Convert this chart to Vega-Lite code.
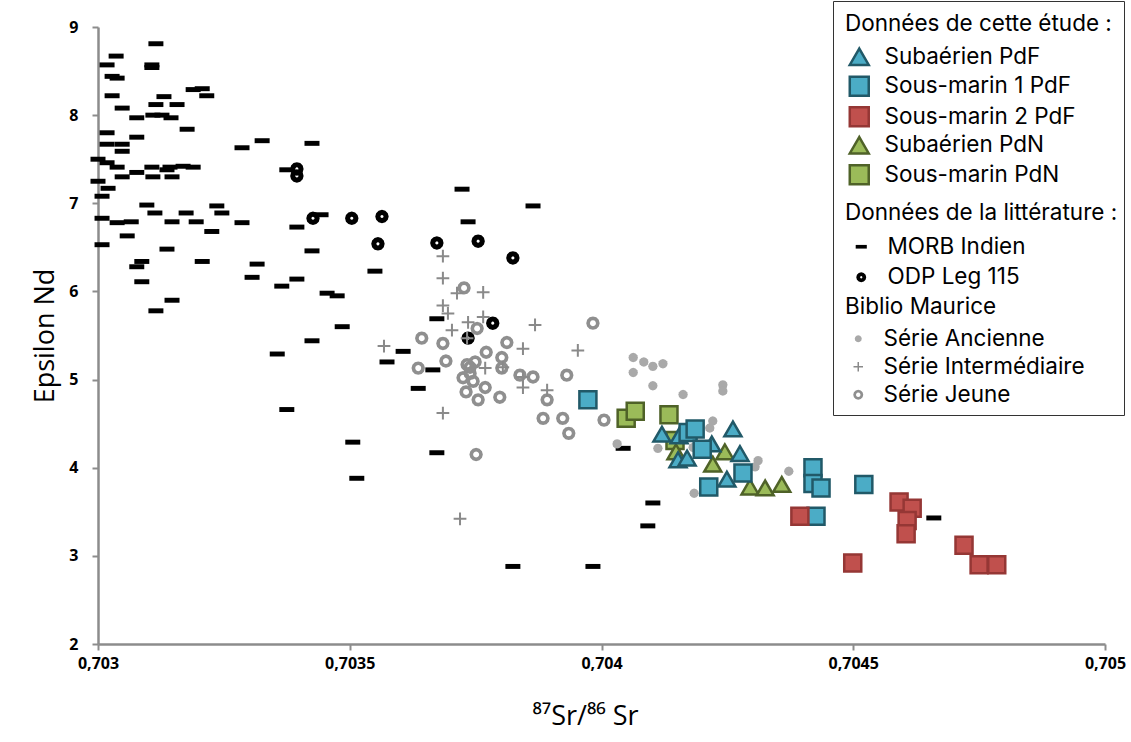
{
  "$schema": "https://vega.github.io/schema/vega-lite/v6.json",
  "width": 1007,
  "height": 617,
  "autosize": {"type": "none"},
  "padding": {"left": 98, "top": 27, "right": 26, "bottom": 98},
  "background": "white",
  "config": {
    "view": {"stroke": null},
    "font": "Open Sans",
    "axis": {
      "grid": false,
      "domainColor": "#8c8c8c",
      "domainWidth": 2.5,
      "tickColor": "#8c8c8c",
      "tickWidth": 2,
      "tickSize": 6,
      "labelColor": "#000000",
      "labelFont": "Open Sans",
      "labelFontSize": 16,
      "labelFontWeight": "bold",
      "labelOverlap": false,
      "labelFlush": false,
      "titleFont": "Open Sans",
      "titleFontSize": 27,
      "titleFontWeight": "normal",
      "titleColor": "#000000"
    },
    "legend": {
      "titleFont": "Inter",
      "titleFontSize": 22.5,
      "titleFontWeight": "normal",
      "titleColor": "#000000",
      "labelFont": "Inter",
      "labelFontSize": 22.5,
      "labelColor": "#000000",
      "labelLimit": 400,
      "titleLimit": 400,
      "symbolOpacity": 1
    }
  },
  "datasets": {
    "litt": [
      {"serie": "MORB Indien", "sr": 0.703115, "end": 8.81},
      {"serie": "MORB Indien", "sr": 0.703036, "end": 8.67},
      {"serie": "MORB Indien", "sr": 0.703018, "end": 8.57},
      {"serie": "MORB Indien", "sr": 0.703107, "end": 8.57},
      {"serie": "MORB Indien", "sr": 0.703107, "end": 8.54},
      {"serie": "MORB Indien", "sr": 0.703028, "end": 8.44},
      {"serie": "MORB Indien", "sr": 0.703038, "end": 8.42},
      {"serie": "MORB Indien", "sr": 0.703028, "end": 8.22},
      {"serie": "MORB Indien", "sr": 0.703131, "end": 8.21},
      {"serie": "MORB Indien", "sr": 0.703189, "end": 8.29},
      {"serie": "MORB Indien", "sr": 0.703207, "end": 8.30},
      {"serie": "MORB Indien", "sr": 0.703216, "end": 8.22},
      {"serie": "MORB Indien", "sr": 0.703048, "end": 8.08},
      {"serie": "MORB Indien", "sr": 0.703115, "end": 8.12},
      {"serie": "MORB Indien", "sr": 0.703157, "end": 8.12},
      {"serie": "MORB Indien", "sr": 0.703077, "end": 7.97},
      {"serie": "MORB Indien", "sr": 0.703109, "end": 8.00},
      {"serie": "MORB Indien", "sr": 0.703127, "end": 8.00},
      {"serie": "MORB Indien", "sr": 0.703145, "end": 7.97},
      {"serie": "MORB Indien", "sr": 0.703177, "end": 7.84},
      {"serie": "MORB Indien", "sr": 0.703018, "end": 7.80},
      {"serie": "MORB Indien", "sr": 0.703077, "end": 7.75},
      {"serie": "MORB Indien", "sr": 0.703018, "end": 7.67},
      {"serie": "MORB Indien", "sr": 0.703048, "end": 7.67},
      {"serie": "MORB Indien", "sr": 0.703048, "end": 7.59},
      {"serie": "MORB Indien", "sr": 0.703326, "end": 7.71},
      {"serie": "MORB Indien", "sr": 0.703286, "end": 7.63},
      {"serie": "MORB Indien", "sr": 0.703425, "end": 7.68},
      {"serie": "MORB Indien", "sr": 0.703000, "end": 7.50},
      {"serie": "MORB Indien", "sr": 0.703018, "end": 7.46},
      {"serie": "MORB Indien", "sr": 0.703038, "end": 7.41},
      {"serie": "MORB Indien", "sr": 0.703107, "end": 7.41},
      {"serie": "MORB Indien", "sr": 0.703143, "end": 7.41},
      {"serie": "MORB Indien", "sr": 0.703169, "end": 7.42},
      {"serie": "MORB Indien", "sr": 0.703189, "end": 7.41},
      {"serie": "MORB Indien", "sr": 0.703077, "end": 7.35},
      {"serie": "MORB Indien", "sr": 0.703137, "end": 7.38},
      {"serie": "MORB Indien", "sr": 0.703048, "end": 7.30},
      {"serie": "MORB Indien", "sr": 0.703109, "end": 7.30},
      {"serie": "MORB Indien", "sr": 0.703147, "end": 7.30},
      {"serie": "MORB Indien", "sr": 0.703000, "end": 7.25},
      {"serie": "MORB Indien", "sr": 0.703020, "end": 7.17},
      {"serie": "MORB Indien", "sr": 0.703008, "end": 7.08},
      {"serie": "MORB Indien", "sr": 0.703097, "end": 6.98},
      {"serie": "MORB Indien", "sr": 0.703236, "end": 6.97},
      {"serie": "MORB Indien", "sr": 0.703113, "end": 6.89},
      {"serie": "MORB Indien", "sr": 0.703175, "end": 6.89},
      {"serie": "MORB Indien", "sr": 0.703246, "end": 6.89},
      {"serie": "MORB Indien", "sr": 0.703008, "end": 6.83},
      {"serie": "MORB Indien", "sr": 0.703038, "end": 6.78},
      {"serie": "MORB Indien", "sr": 0.703066, "end": 6.79},
      {"serie": "MORB Indien", "sr": 0.703147, "end": 6.79},
      {"serie": "MORB Indien", "sr": 0.703195, "end": 6.79},
      {"serie": "MORB Indien", "sr": 0.703286, "end": 6.78},
      {"serie": "MORB Indien", "sr": 0.703226, "end": 6.68},
      {"serie": "MORB Indien", "sr": 0.703395, "end": 6.73},
      {"serie": "MORB Indien", "sr": 0.703443, "end": 6.87},
      {"serie": "MORB Indien", "sr": 0.703058, "end": 6.63},
      {"serie": "MORB Indien", "sr": 0.703008, "end": 6.53},
      {"serie": "MORB Indien", "sr": 0.703137, "end": 6.48},
      {"serie": "MORB Indien", "sr": 0.703425, "end": 6.46},
      {"serie": "MORB Indien", "sr": 0.703087, "end": 6.34},
      {"serie": "MORB Indien", "sr": 0.703077, "end": 6.28},
      {"serie": "MORB Indien", "sr": 0.703207, "end": 6.34},
      {"serie": "MORB Indien", "sr": 0.703316, "end": 6.31},
      {"serie": "MORB Indien", "sr": 0.703306, "end": 6.16},
      {"serie": "MORB Indien", "sr": 0.703395, "end": 6.14},
      {"serie": "MORB Indien", "sr": 0.703365, "end": 6.06},
      {"serie": "MORB Indien", "sr": 0.703550, "end": 6.23},
      {"serie": "MORB Indien", "sr": 0.703087, "end": 6.11},
      {"serie": "MORB Indien", "sr": 0.703455, "end": 5.98},
      {"serie": "MORB Indien", "sr": 0.703475, "end": 5.95},
      {"serie": "MORB Indien", "sr": 0.703147, "end": 5.90},
      {"serie": "MORB Indien", "sr": 0.703115, "end": 5.78},
      {"serie": "MORB Indien", "sr": 0.703485, "end": 5.60},
      {"serie": "MORB Indien", "sr": 0.703425, "end": 5.44},
      {"serie": "MORB Indien", "sr": 0.703356, "end": 5.29},
      {"serie": "MORB Indien", "sr": 0.703723, "end": 7.16},
      {"serie": "MORB Indien", "sr": 0.703864, "end": 6.97},
      {"serie": "MORB Indien", "sr": 0.703735, "end": 6.79},
      {"serie": "MORB Indien", "sr": 0.703673, "end": 5.69},
      {"serie": "MORB Indien", "sr": 0.703606, "end": 5.32},
      {"serie": "MORB Indien", "sr": 0.703574, "end": 5.20},
      {"serie": "MORB Indien", "sr": 0.703665, "end": 5.11},
      {"serie": "MORB Indien", "sr": 0.703636, "end": 4.90},
      {"serie": "MORB Indien", "sr": 0.703375, "end": 4.66},
      {"serie": "MORB Indien", "sr": 0.703506, "end": 4.29},
      {"serie": "MORB Indien", "sr": 0.703514, "end": 3.88},
      {"serie": "MORB Indien", "sr": 0.703673, "end": 4.17},
      {"serie": "MORB Indien", "sr": 0.704043, "end": 4.22},
      {"serie": "MORB Indien", "sr": 0.704102, "end": 3.60},
      {"serie": "MORB Indien", "sr": 0.704092, "end": 3.34},
      {"serie": "MORB Indien", "sr": 0.703824, "end": 2.88},
      {"serie": "MORB Indien", "sr": 0.703983, "end": 2.88},
      {"serie": "MORB Indien", "sr": 0.704660, "end": 3.43},
      {"serie": "MORB Indien", "sr": 0.703375, "end": 7.38},
      {"serie": "ODP Leg 115", "sr": 0.703395, "end": 7.39},
      {"serie": "ODP Leg 115", "sr": 0.703395, "end": 7.31},
      {"serie": "ODP Leg 115", "sr": 0.703427, "end": 6.83},
      {"serie": "ODP Leg 115", "sr": 0.703504, "end": 6.83},
      {"serie": "ODP Leg 115", "sr": 0.703564, "end": 6.85},
      {"serie": "ODP Leg 115", "sr": 0.703556, "end": 6.54},
      {"serie": "ODP Leg 115", "sr": 0.703673, "end": 6.55},
      {"serie": "ODP Leg 115", "sr": 0.703755, "end": 6.57},
      {"serie": "ODP Leg 115", "sr": 0.703824, "end": 6.38},
      {"serie": "ODP Leg 115", "sr": 0.703784, "end": 5.64},
      {"serie": "ODP Leg 115", "sr": 0.703735, "end": 5.47}
    ],
    "biblio": [
      {"serie": "Série Ancienne", "sr": 0.704063, "end": 5.25},
      {"serie": "Série Ancienne", "sr": 0.704084, "end": 5.20},
      {"serie": "Série Ancienne", "sr": 0.704102, "end": 5.15},
      {"serie": "Série Ancienne", "sr": 0.704122, "end": 5.18},
      {"serie": "Série Ancienne", "sr": 0.704063, "end": 5.08},
      {"serie": "Série Ancienne", "sr": 0.704102, "end": 4.93},
      {"serie": "Série Ancienne", "sr": 0.704162, "end": 4.83},
      {"serie": "Série Ancienne", "sr": 0.704241, "end": 4.94},
      {"serie": "Série Ancienne", "sr": 0.704241, "end": 4.87},
      {"serie": "Série Ancienne", "sr": 0.704221, "end": 4.53},
      {"serie": "Série Ancienne", "sr": 0.704215, "end": 4.45},
      {"serie": "Série Ancienne", "sr": 0.704031, "end": 4.27},
      {"serie": "Série Ancienne", "sr": 0.704112, "end": 4.22},
      {"serie": "Série Ancienne", "sr": 0.704182, "end": 4.23},
      {"serie": "Série Ancienne", "sr": 0.704311, "end": 4.08},
      {"serie": "Série Ancienne", "sr": 0.704305, "end": 4.01},
      {"serie": "Série Ancienne", "sr": 0.704372, "end": 3.96},
      {"serie": "Série Ancienne", "sr": 0.704184, "end": 3.71},
      {"serie": "Série Jeune", "sr": 0.703727, "end": 6.04},
      {"serie": "Série Jeune", "sr": 0.703983, "end": 5.64},
      {"serie": "Série Jeune", "sr": 0.703643, "end": 5.47},
      {"serie": "Série Jeune", "sr": 0.703685, "end": 5.41},
      {"serie": "Série Jeune", "sr": 0.703691, "end": 5.21},
      {"serie": "Série Jeune", "sr": 0.703636, "end": 5.13},
      {"serie": "Série Jeune", "sr": 0.703753, "end": 5.58},
      {"serie": "Série Jeune", "sr": 0.703812, "end": 5.42},
      {"serie": "Série Jeune", "sr": 0.703771, "end": 5.31},
      {"serie": "Série Jeune", "sr": 0.703802, "end": 5.25},
      {"serie": "Série Jeune", "sr": 0.703739, "end": 5.14},
      {"serie": "Série Jeune", "sr": 0.703739, "end": 5.07},
      {"serie": "Série Jeune", "sr": 0.703749, "end": 5.20},
      {"serie": "Série Jeune", "sr": 0.703733, "end": 5.17},
      {"serie": "Série Jeune", "sr": 0.703725, "end": 5.02},
      {"serie": "Série Jeune", "sr": 0.703745, "end": 4.98},
      {"serie": "Série Jeune", "sr": 0.703802, "end": 5.13},
      {"serie": "Série Jeune", "sr": 0.703838, "end": 5.05},
      {"serie": "Série Jeune", "sr": 0.703864, "end": 5.03},
      {"serie": "Série Jeune", "sr": 0.703931, "end": 5.05},
      {"serie": "Série Jeune", "sr": 0.703769, "end": 4.91},
      {"serie": "Série Jeune", "sr": 0.703731, "end": 4.86},
      {"serie": "Série Jeune", "sr": 0.703755, "end": 4.77},
      {"serie": "Série Jeune", "sr": 0.703798, "end": 4.80},
      {"serie": "Série Jeune", "sr": 0.703892, "end": 4.77},
      {"serie": "Série Jeune", "sr": 0.703884, "end": 4.56},
      {"serie": "Série Jeune", "sr": 0.703923, "end": 4.56},
      {"serie": "Série Jeune", "sr": 0.703935, "end": 4.39},
      {"serie": "Série Jeune", "sr": 0.704005, "end": 4.54},
      {"serie": "Série Jeune", "sr": 0.703751, "end": 4.15},
      {"serie": "Série Intermédiaire", "sr": 0.703685, "end": 6.40},
      {"serie": "Série Intermédiaire", "sr": 0.703685, "end": 6.15},
      {"serie": "Série Intermédiaire", "sr": 0.703765, "end": 5.99},
      {"serie": "Série Intermédiaire", "sr": 0.703713, "end": 5.98},
      {"serie": "Série Intermédiaire", "sr": 0.703685, "end": 5.84},
      {"serie": "Série Intermédiaire", "sr": 0.703695, "end": 5.75},
      {"serie": "Série Intermédiaire", "sr": 0.703735, "end": 5.65},
      {"serie": "Série Intermédiaire", "sr": 0.703765, "end": 5.71},
      {"serie": "Série Intermédiaire", "sr": 0.703703, "end": 5.56},
      {"serie": "Série Intermédiaire", "sr": 0.703868, "end": 5.62},
      {"serie": "Série Intermédiaire", "sr": 0.703733, "end": 5.47},
      {"serie": "Série Intermédiaire", "sr": 0.703568, "end": 5.38},
      {"serie": "Série Intermédiaire", "sr": 0.703844, "end": 5.35},
      {"serie": "Série Intermédiaire", "sr": 0.703953, "end": 5.33},
      {"serie": "Série Intermédiaire", "sr": 0.703844, "end": 5.03},
      {"serie": "Série Intermédiaire", "sr": 0.703844, "end": 4.91},
      {"serie": "Série Intermédiaire", "sr": 0.703892, "end": 4.88},
      {"serie": "Série Intermédiaire", "sr": 0.703804, "end": 5.14},
      {"serie": "Série Intermédiaire", "sr": 0.703769, "end": 5.13},
      {"serie": "Série Intermédiaire", "sr": 0.703685, "end": 4.62},
      {"serie": "Série Intermédiaire", "sr": 0.703719, "end": 3.42}
    ],
    "etude": [
      {"serie": "Sous-marin PdN", "sr": 0.704049, "end": 4.56},
      {"serie": "Sous-marin PdN", "sr": 0.704067, "end": 4.64},
      {"serie": "Sous-marin PdN", "sr": 0.704134, "end": 4.60},
      {"serie": "Sous-marin PdN", "sr": 0.704146, "end": 4.31},
      {"serie": "Subaérien PdN", "sr": 0.704148, "end": 4.18},
      {"serie": "Subaérien PdN", "sr": 0.704245, "end": 4.18},
      {"serie": "Subaérien PdN", "sr": 0.704221, "end": 4.04},
      {"serie": "Subaérien PdN", "sr": 0.704295, "end": 3.78},
      {"serie": "Subaérien PdN", "sr": 0.704325, "end": 3.77},
      {"serie": "Subaérien PdN", "sr": 0.704358, "end": 3.81},
      {"serie": "Subaérien PdF", "sr": 0.704120, "end": 4.38},
      {"serie": "Subaérien PdF", "sr": 0.704154, "end": 4.36},
      {"serie": "Subaérien PdF", "sr": 0.704152, "end": 4.09},
      {"serie": "Subaérien PdF", "sr": 0.704170, "end": 4.11},
      {"serie": "Subaérien PdF", "sr": 0.704219, "end": 4.27},
      {"serie": "Subaérien PdF", "sr": 0.704261, "end": 4.44},
      {"serie": "Subaérien PdF", "sr": 0.704275, "end": 4.16},
      {"serie": "Subaérien PdF", "sr": 0.704249, "end": 3.87},
      {"serie": "Sous-marin 1 PdF", "sr": 0.703973, "end": 4.77},
      {"serie": "Sous-marin 1 PdF", "sr": 0.704172, "end": 4.40},
      {"serie": "Sous-marin 1 PdF", "sr": 0.704186, "end": 4.44},
      {"serie": "Sous-marin 1 PdF", "sr": 0.704200, "end": 4.21},
      {"serie": "Sous-marin 1 PdF", "sr": 0.704281, "end": 3.94},
      {"serie": "Sous-marin 1 PdF", "sr": 0.704213, "end": 3.78},
      {"serie": "Sous-marin 1 PdF", "sr": 0.704420, "end": 4.00},
      {"serie": "Sous-marin 1 PdF", "sr": 0.704420, "end": 3.82},
      {"serie": "Sous-marin 1 PdF", "sr": 0.704436, "end": 3.77},
      {"serie": "Sous-marin 1 PdF", "sr": 0.704521, "end": 3.81},
      {"serie": "Sous-marin 1 PdF", "sr": 0.704426, "end": 3.45},
      {"serie": "Sous-marin 2 PdF", "sr": 0.704394, "end": 3.45},
      {"serie": "Sous-marin 2 PdF", "sr": 0.704499, "end": 2.92},
      {"serie": "Sous-marin 2 PdF", "sr": 0.704591, "end": 3.61},
      {"serie": "Sous-marin 2 PdF", "sr": 0.704617, "end": 3.54},
      {"serie": "Sous-marin 2 PdF", "sr": 0.704607, "end": 3.40},
      {"serie": "Sous-marin 2 PdF", "sr": 0.704605, "end": 3.25},
      {"serie": "Sous-marin 2 PdF", "sr": 0.704720, "end": 3.12},
      {"serie": "Sous-marin 2 PdF", "sr": 0.704750, "end": 2.90},
      {"serie": "Sous-marin 2 PdF", "sr": 0.704785, "end": 2.90}
    ]
  },
  "encoding": {
    "x": {
      "field": "sr",
      "type": "quantitative",
      "scale": {"domain": [0.703, 0.705], "zero": false, "nice": false},
      "axis": {
        "title": "⁸⁷Sr/⁸⁶ Sr",
        "titleX": 487,
        "values": [0.703, 0.7035, 0.704, 0.7045, 0.705],
        "labelExpr": "replace(format(datum.value, '.4~f'), '.', ',')",
        "labelPadding": 5,
        "titlePadding": 32
      }
    },
    "y": {
      "field": "end",
      "type": "quantitative",
      "scale": {"domain": [2, 9], "zero": false, "nice": false},
      "axis": {
        "title": "Epsilon Nd",
        "values": [2, 3, 4, 5, 6, 7, 8, 9],
        "labelPadding": 14,
        "titlePadding": 9
      }
    }
  },
  "layer": [
    {
      "data": {"name": "litt"},
      "mark": {"type": "point", "filled": true, "opacity": 1, "size": 200, "strokeWidth": 0},
      "encoding": {
        "shape": {
          "field": "serie", "type": "nominal",
          "scale": {"domain": ["MORB Indien", "ODP Leg 115"], "range": ["M-1.06,-0.35H1.06V0.35H-1.06Z", "M0.95,0L0.823,0.475L0.475,0.823L0,0.95L-0.475,0.823L-0.823,0.475L-0.95,0L-0.823,-0.475L-0.475,-0.823L0,-0.95L0.475,-0.823L0.823,-0.475Z M0.22,0L0.19,-0.11L0.11,-0.19L0,-0.22L-0.11,-0.19L-0.19,-0.11L-0.22,0L-0.19,0.11L-0.11,0.19L0,0.22L0.11,0.19L0.19,0.11Z"]},
          "legend": {"title": "Données de la littérature :", "orient": "none", "legendX": 747, "legendY": 175, "padding": 0, "symbolSize": 110, "symbolStrokeWidth": 0, "titlePadding": 11, "rowPadding": 7.5, "symbolOffset": 5, "labelOffset": 15}
        },
        "fill": {
          "field": "serie", "type": "nominal",
          "scale": {"domain": ["MORB Indien", "ODP Leg 115"], "range": ["#000000", "#000000"]},
          "legend": {"title": "Données de la littérature :", "orient": "none", "legendX": 747, "legendY": 175, "padding": 0, "symbolSize": 110, "symbolStrokeWidth": 0, "titlePadding": 11, "rowPadding": 7.5, "symbolOffset": 5, "labelOffset": 15}
        }
      }
    },
    {
      "data": {"name": "biblio"},
      "mark": {"type": "point", "filled": true, "opacity": 1, "size": 180, "strokeWidth": 0},
      "encoding": {
        "shape": {
          "field": "serie", "type": "nominal",
          "scale": {"domain": ["Série Ancienne", "Série Intermédiaire", "Série Jeune"], "range": ["M0.7,0L0.606,0.35L0.35,0.606L0,0.7L-0.35,0.606L-0.606,0.35L-0.7,0L-0.606,-0.35L-0.35,-0.606L0,-0.7L0.35,-0.606L0.606,-0.35Z", "M-0.95,-0.15H-0.15V-0.95H0.15V-0.15H0.95V0.15H0.15V0.95H-0.15V0.15H-0.95Z", "M1,0L0.866,0.5L0.5,0.866L0,1L-0.5,0.866L-0.866,0.5L-1,0L-0.866,-0.5L-0.5,-0.866L0,-1L0.5,-0.866L0.866,-0.5Z M0.45,0L0.39,-0.225L0.225,-0.39L0,-0.45L-0.225,-0.39L-0.39,-0.225L-0.45,0L-0.39,0.225L-0.225,0.39L0,0.45L0.225,0.39L0.39,0.225Z"]},
          "legend": {"title": "Biblio Maurice", "orient": "none", "legendX": 747, "legendY": 269, "padding": 0, "symbolSize": 100, "symbolStrokeWidth": 0, "titlePadding": 9, "rowPadding": 5, "symbolOffset": 2, "labelOffset": 14}
        },
        "fill": {
          "field": "serie", "type": "nominal",
          "scale": {"domain": ["Série Ancienne", "Série Intermédiaire", "Série Jeune"], "range": ["#a9a9a9", "#8a8a8a", "#8f8f8f"]},
          "legend": {"title": "Biblio Maurice", "orient": "none", "legendX": 747, "legendY": 269, "padding": 0, "symbolSize": 100, "symbolStrokeWidth": 0, "titlePadding": 9, "rowPadding": 5, "symbolOffset": 2, "labelOffset": 14}
        }
      }
    },
    {
      "data": {"name": "etude"},
      "mark": {"type": "point", "filled": true, "opacity": 1, "size": 290, "strokeWidth": 2.5, "strokeJoin": "miter"},
      "encoding": {
        "shape": {
          "field": "serie", "type": "nominal",
          "scale": {"domain": ["Subaérien PdF", "Sous-marin 1 PdF", "Sous-marin 2 PdF", "Subaérien PdN", "Sous-marin PdN", " ", "  ", "   ", "    ", "     ", "      ", "       "], "range": ["triangle-up", "square", "square", "triangle-up", "square", "square", "square", "square", "square", "square", "square", "square"]},
          "legend": {"title": "Données de cette étude :", "orient": "none", "legendX": 735, "legendY": -26, "padding": 12, "strokeColor": "#333333", "symbolSize": 360, "symbolStrokeWidth": 2.5, "titlePadding": 10, "rowPadding": 0.5, "symbolOffset": 3, "labelOffset": 14}
        },
        "fill": {
          "field": "serie", "type": "nominal",
          "scale": {"domain": ["Subaérien PdF", "Sous-marin 1 PdF", "Sous-marin 2 PdF", "Subaérien PdN", "Sous-marin PdN", " ", "  ", "   ", "    ", "     ", "      ", "       "], "range": ["#4bacc6", "#4bacc6", "#c0504d", "#9bbb59", "#9bbb59", "transparent", "transparent", "transparent", "transparent", "transparent", "transparent", "transparent"]},
          "legend": {"title": "Données de cette étude :", "orient": "none", "legendX": 735, "legendY": -26, "padding": 12, "strokeColor": "#333333", "symbolSize": 360, "symbolStrokeWidth": 2.5, "titlePadding": 10, "rowPadding": 0.5, "symbolOffset": 3, "labelOffset": 14}
        },
        "stroke": {
          "field": "serie", "type": "nominal",
          "scale": {"domain": ["Subaérien PdF", "Sous-marin 1 PdF", "Sous-marin 2 PdF", "Subaérien PdN", "Sous-marin PdN", " ", "  ", "   ", "    ", "     ", "      ", "       "], "range": ["#215968", "#215968", "#953735", "#4f6228", "#4f6228", "transparent", "transparent", "transparent", "transparent", "transparent", "transparent", "transparent"]},
          "legend": {"title": "Données de cette étude :", "orient": "none", "legendX": 735, "legendY": -26, "padding": 12, "strokeColor": "#333333", "symbolSize": 360, "symbolStrokeWidth": 2.5, "titlePadding": 10, "rowPadding": 0.5, "symbolOffset": 3, "labelOffset": 14}
        }
      }
    }
  ],
  "resolve": {"scale": {"shape": "independent", "fill": "independent", "stroke": "independent"}}
}
